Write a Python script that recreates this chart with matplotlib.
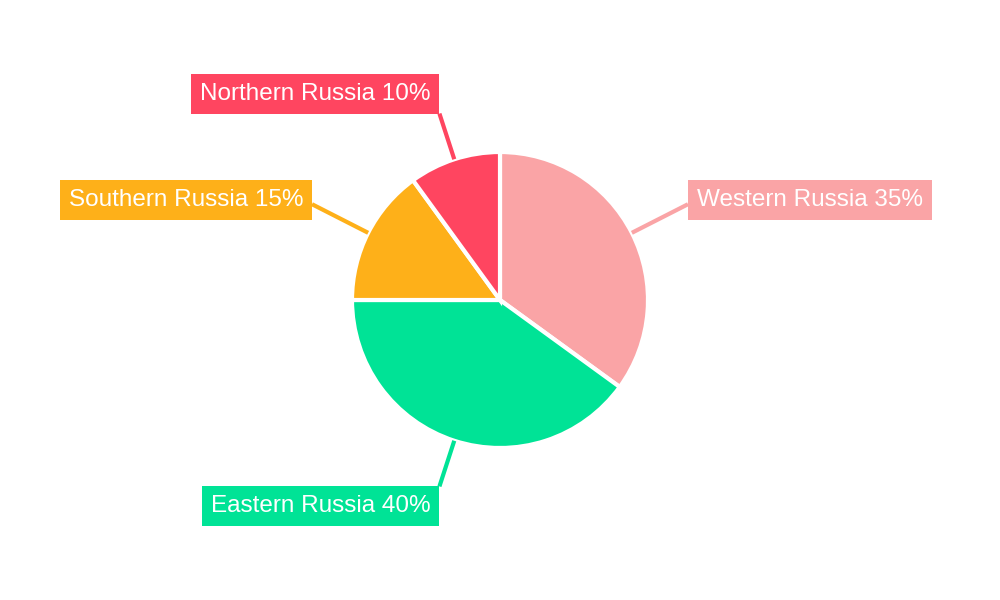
import numpy as np
import matplotlib
matplotlib.use("Agg")
import matplotlib.pyplot as plt

regions = ["Western Russia", "Eastern Russia", "Southern Russia", "Northern Russia"]
shares = [35, 40, 15, 10]
colors = ["#FAA4A6", "#00E396", "#FEB019", "#FF4560"]

plt.rcParams['font.family'] = ['Liberation Sans', 'DejaVu Sans']

fig = plt.figure(figsize=(10, 6), dpi=100)
ax = fig.add_axes([0, 0, 1, 1])

cx, cy, R = 500, 300, 148
wedges, _ = ax.pie(shares, colors=colors, startangle=90, counterclock=False,
                   center=(cx, cy), radius=R, frame=True,
                   wedgeprops=dict(edgecolor='white', linewidth=3))
ax.set_xlim(0, 1000)
ax.set_ylim(0, 600)
ax.set_aspect('equal')
ax.axis('off')

fs_px = 24.2
fs = fs_px * 0.72
pad = 0.37
pad_px = pad * fs_px
extra = [63, 48, 63, 48]

total = sum(shares)
cum = 0
for name, val, col, ext in zip(regions, shares, colors, extra):
    mid = 90 - (cum + val / 2) / total * 360
    cum += val
    a = np.deg2rad(mid)
    x0, y0 = cx + R * np.cos(a), cy + R * np.sin(a)
    x1, y1 = cx + (R + ext) * np.cos(a), cy + (R + ext) * np.sin(a)
    ax.plot([x0, x1], [y0, y1], color=col, lw=3, solid_capstyle='butt', zorder=3)
    right = np.cos(a) > 0
    horiz = abs(np.cos(a)) > 0.6
    if horiz:
        ha = 'left' if right else 'right'
        tx = x1 + pad_px if right else x1 - pad_px
        ty = y1 + 4
        va = 'center'
    else:
        ha = 'right'
        tx = x1 - pad_px
        if np.sin(a) > 0:
            va = 'bottom'
            ty = y1 + pad_px
        else:
            va = 'top'
            ty = y1 - pad_px
    ax.text(tx, ty, f"{name} {val}%", color='white', fontsize=fs, ha=ha, va=va,
            bbox=dict(boxstyle=f'square,pad={pad}', facecolor=col, edgecolor='none'),
            zorder=4)

fig.savefig("out.png", dpi=100, facecolor='white')
